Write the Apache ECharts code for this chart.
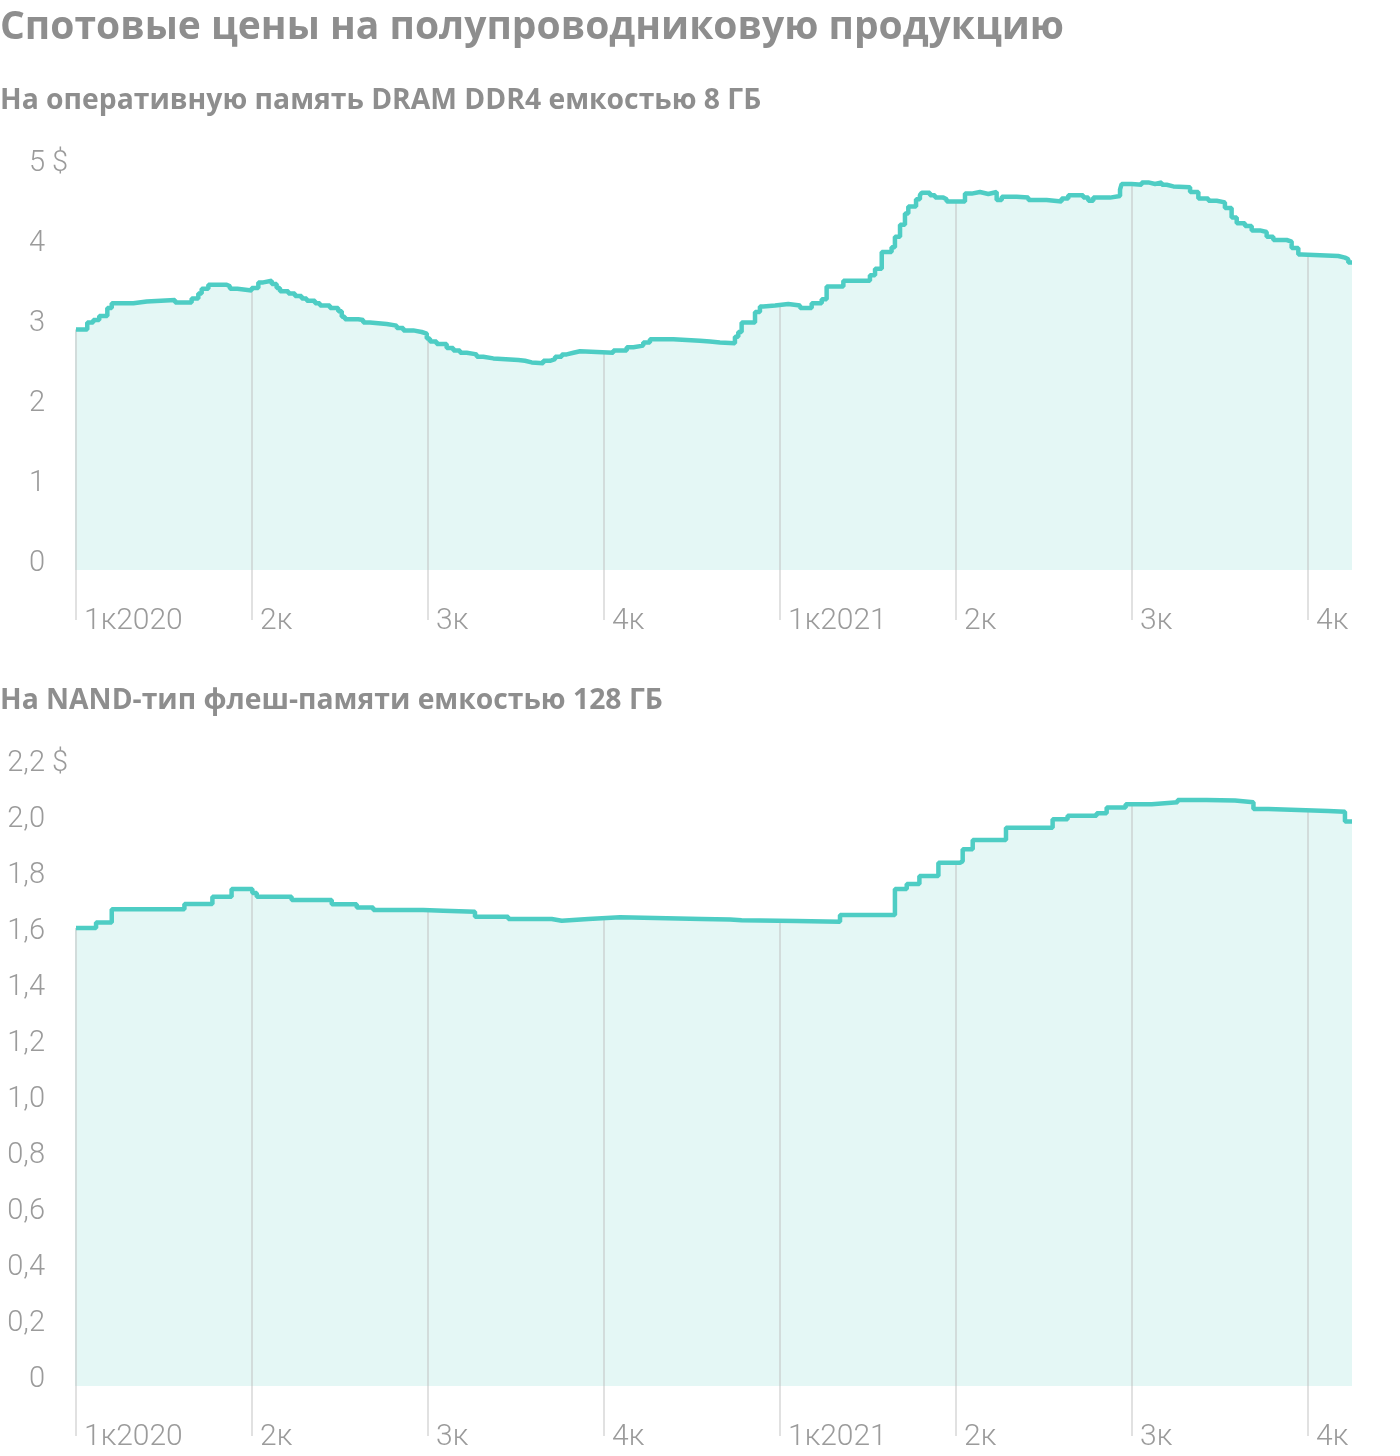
<!DOCTYPE html>
<html><head><meta charset="utf-8">
<script src="https://cdn.jsdelivr.net/npm/echarts@6/dist/echarts.min.js"></script>
<style>html,body{margin:0;padding:0;background:#fff}#c{width:1400px;height:1456px}</style>
</head><body><div id="c"></div>
<script>
// Quarter labels (x position = quarters since start of 1Q2020)
const quarterLabels = ['1к2020','2к','3к','4к','1к2021','2к','3к','4к'];
const quarterTicks = [0,1,2,3,4,5,6,7];

// DRAM DDR4 8GB spot price, $ (step data: value holds from t until next t)
const dramT = [0,0.064,0.098,0.132,0.178,0.203,0.326,0.402,0.563,0.657,0.695,0.714,0.752,0.856,0.875,0.917,0.998,1.036,1.064,1.112,1.140,1.159,1.207,1.244,1.282,1.311,1.358,1.386,1.443,1.490,1.510,1.528,1.604,1.632,1.670,1.765,1.822,1.860,1.916,1.964,1.993,2.011,2.049,2.106,2.144,2.182,2.220,2.277,2.314,2.371,2.513,2.551,2.589,2.655,2.693,2.722,2.760,2.788,2.826,2.864,3.053,3.129,3.167,3.223,3.261,3.394,3.545,3.602,3.659,3.744,3.763,3.782,3.858,3.886,3.905,3.972,4.047,4.114,4.180,4.237,4.265,4.360,4.511,4.540,4.578,4.634,4.653,4.682,4.710,4.729,4.773,4.795,4.805,4.852,4.881,4.928,4.947,5.051,5.089,5.136,5.184,5.231,5.260,5.345,5.411,5.515,5.600,5.638,5.723,5.752,5.780,5.875,5.932,5.941,5.998,6.055,6.093,6.131,6.169,6.197,6.235,6.330,6.377,6.434,6.481,6.528,6.566,6.595,6.642,6.680,6.727,6.765,6.803,6.879,6.907,6.945,6.964,7.172,7.210,7.229,7.25];
const dramV = [2.88,2.97,3.00,3.05,3.15,3.21,3.23,3.25,3.22,3.27,3.33,3.39,3.44,3.42,3.39,3.37,3.40,3.47,3.49,3.45,3.40,3.36,3.33,3.30,3.27,3.24,3.21,3.18,3.15,3.11,3.04,3.01,3.00,2.97,2.95,2.93,2.90,2.87,2.85,2.83,2.77,2.73,2.70,2.65,2.62,2.59,2.57,2.54,2.52,2.50,2.49,2.47,2.46,2.49,2.51,2.54,2.57,2.59,2.61,2.59,2.62,2.66,2.68,2.72,2.76,2.74,2.73,2.72,2.71,2.79,2.85,2.97,3.10,3.17,3.18,3.20,3.18,3.15,3.21,3.26,3.42,3.49,3.56,3.64,3.85,3.91,4.04,4.19,4.33,4.42,4.51,4.56,4.59,4.56,4.53,4.51,4.48,4.58,4.60,4.575,4.60,4.50,4.54,4.53,4.50,4.48,4.52,4.56,4.53,4.49,4.53,4.55,4.63,4.70,4.69,4.72,4.70,4.72,4.69,4.67,4.66,4.60,4.52,4.49,4.47,4.40,4.28,4.21,4.175,4.12,4.10,4.04,4.00,3.98,3.90,3.82,3.80,3.78,3.76,3.72,3.72];

// NAND 128GB spot price, $
const nandT = [0,0.114,0.203,0.616,0.775,0.884,1.002,1.027,1.225,1.453,1.595,1.689,1.973,2.087,2.267,2.456,2.703,2.760,2.911,3.091,3.555,3.716,3.782,4.095,4.341,4.653,4.720,4.792,4.900,5.023,5.038,5.095,5.284,5.549,5.634,5.799,5.856,5.964,6.112,6.259,6.424,6.585,6.690,6.775,7.115,7.210,7.25];
const nandV = [1.600,1.620,1.667,1.686,1.712,1.739,1.725,1.712,1.700,1.685,1.673,1.664,1.662,1.658,1.640,1.632,1.626,1.632,1.638,1.632,1.630,1.628,1.625,1.622,1.646,1.739,1.757,1.786,1.833,1.838,1.881,1.914,1.958,1.988,2.001,2.010,2.030,2.042,2.049,2.057,2.055,2.049,2.025,2.018,2.015,1.980,1.980];

const dramYTicks = [0,1,2,3,4,5];
const nandYTicks = [0,0.2,0.4,0.6,0.8,1.0,1.2,1.4,1.6,1.8,2.0,2.2];

const LINE = '#4ecdc4', FILL = '#e4f7f5', GRAY = '#9b9b9b', TITLE = '#8e8e8e';
const FONT = 'Roboto';

function pairs(t, v) { return t.map((x, i) => [x, v[i]]); }
function valueAt(t, v, q) { let r = v[0]; for (let i = 0; i < t.length; i++) { if (t[i] <= q + 1e-9) r = v[i]; } return r; }

const dramMin = -0.125, nandMin = -10 / 280;

function markLines(t, v, min) {
  return quarterTicks.map(q => [{ coord: [q, min] }, { coord: [q, valueAt(t, v, q)] }]);
}

function yLabel(top, isNand) {
  const ts = { color: GRAY, fontFamily: FONT, fontSize: 29, fontWeight: 300 };
  return {
    customValues: isNand ? nandYTicks : dramYTicks,
    align: 'left', margin: 76, padding: [8, 0, 0, 0], color: GRAY, fontFamily: FONT, fontSize: 29, fontWeight: 300,
    formatter: function (val) {
      let s = isNand ? (Math.abs(val) < 1e-9 ? '0' : val.toFixed(1).replace('.', ',')) : String(Math.round(val));
      return '{n|' + s + '}' + (Math.abs(val - top) < 1e-9 ? '{d| $}' : '');
    },
    rich: {
      n: Object.assign({ width: 45, align: 'right' }, ts),
      d: Object.assign({ align: 'right' }, ts)
    }
  };
}

function xAxisDef(gi) {
  return {
    type: 'value', gridIndex: gi, min: 0, max: 7.25, interval: 1,
    axisLine: { show: false },
    splitLine: { show: false },
    axisTick: { show: true, customValues: quarterTicks, length: 60, lineStyle: { color: '#e1e1e1', width: 2 } },
    axisLabel: {
      customValues: quarterTicks, align: 'left', verticalAlign: 'middle', margin: 51,
      padding: [0, 0, 0, 8], color: GRAY, fontFamily: FONT, fontSize: 30, fontWeight: 300,
      formatter: v => quarterLabels[Math.round(v)] || ''
    }
  };
}

const chart = echarts.init(document.getElementById('c'), null, { renderer: 'canvas' });
chart.setOption({
  animation: false,
  backgroundColor: '#fff',
  graphic: [
    { type: 'text', left: 0, top: 8, style: { text: 'Спотовые цены на полупроводниковую продукцию', fill: TITLE, font: 'bold 39px "Open Sans"' } },
    { type: 'text', left: 0, top: 87, style: { text: 'На оперативную память DRAM DDR4 емкостью 8 ГБ', fill: TITLE, font: 'bold 28.3px "Open Sans"' } },
    { type: 'text', left: 0, top: 687, style: { text: 'На NAND-тип флеш-памяти емкостью 128 ГБ', fill: TITLE, font: 'bold 28.3px "Open Sans"' } }
  ],
  grid: [
    { left: 76, right: 48, top: 160, height: 410 },
    { left: 76, right: 48, top: 760, height: 626 }
  ],
  xAxis: [xAxisDef(0), xAxisDef(1)],
  yAxis: [
    { type: 'value', gridIndex: 0, min: dramMin, max: 5, axisLine: { show: false }, axisTick: { show: false }, splitLine: { show: false }, axisLabel: yLabel(5, false) },
    { type: 'value', gridIndex: 1, min: nandMin, max: 2.2, axisLine: { show: false }, axisTick: { show: false }, splitLine: { show: false }, axisLabel: yLabel(2.2, true) }
  ],
  series: [
    { type: 'line', xAxisIndex: 0, yAxisIndex: 0, data: pairs(dramT, dramV), step: 'end', symbol: 'none', z: 1,
      lineStyle: { width: 0, opacity: 0 }, areaStyle: { color: FILL, origin: 'start', opacity: 1 },
      markLine: { silent: true, z: 2, symbol: 'none', label: { show: false }, lineStyle: { color: '#d2dcdb', width: 2, type: 'solid' }, data: markLines(dramT, dramV, dramMin) } },
    { type: 'line', xAxisIndex: 0, yAxisIndex: 0, data: pairs(dramT, dramV), step: 'end', symbol: 'none', z: 3,
      lineStyle: { color: LINE, width: 4.5 } },
    { type: 'line', xAxisIndex: 1, yAxisIndex: 1, data: pairs(nandT, nandV), step: 'end', symbol: 'none', z: 1,
      lineStyle: { width: 0, opacity: 0 }, areaStyle: { color: FILL, origin: 'start', opacity: 1 },
      markLine: { silent: true, z: 2, symbol: 'none', label: { show: false }, lineStyle: { color: '#d2dcdb', width: 2, type: 'solid' }, data: markLines(nandT, nandV, nandMin) } },
    { type: 'line', xAxisIndex: 1, yAxisIndex: 1, data: pairs(nandT, nandV), step: 'end', symbol: 'none', z: 3,
      lineStyle: { color: LINE, width: 4.5 } }
  ]
});
</script></body></html>
